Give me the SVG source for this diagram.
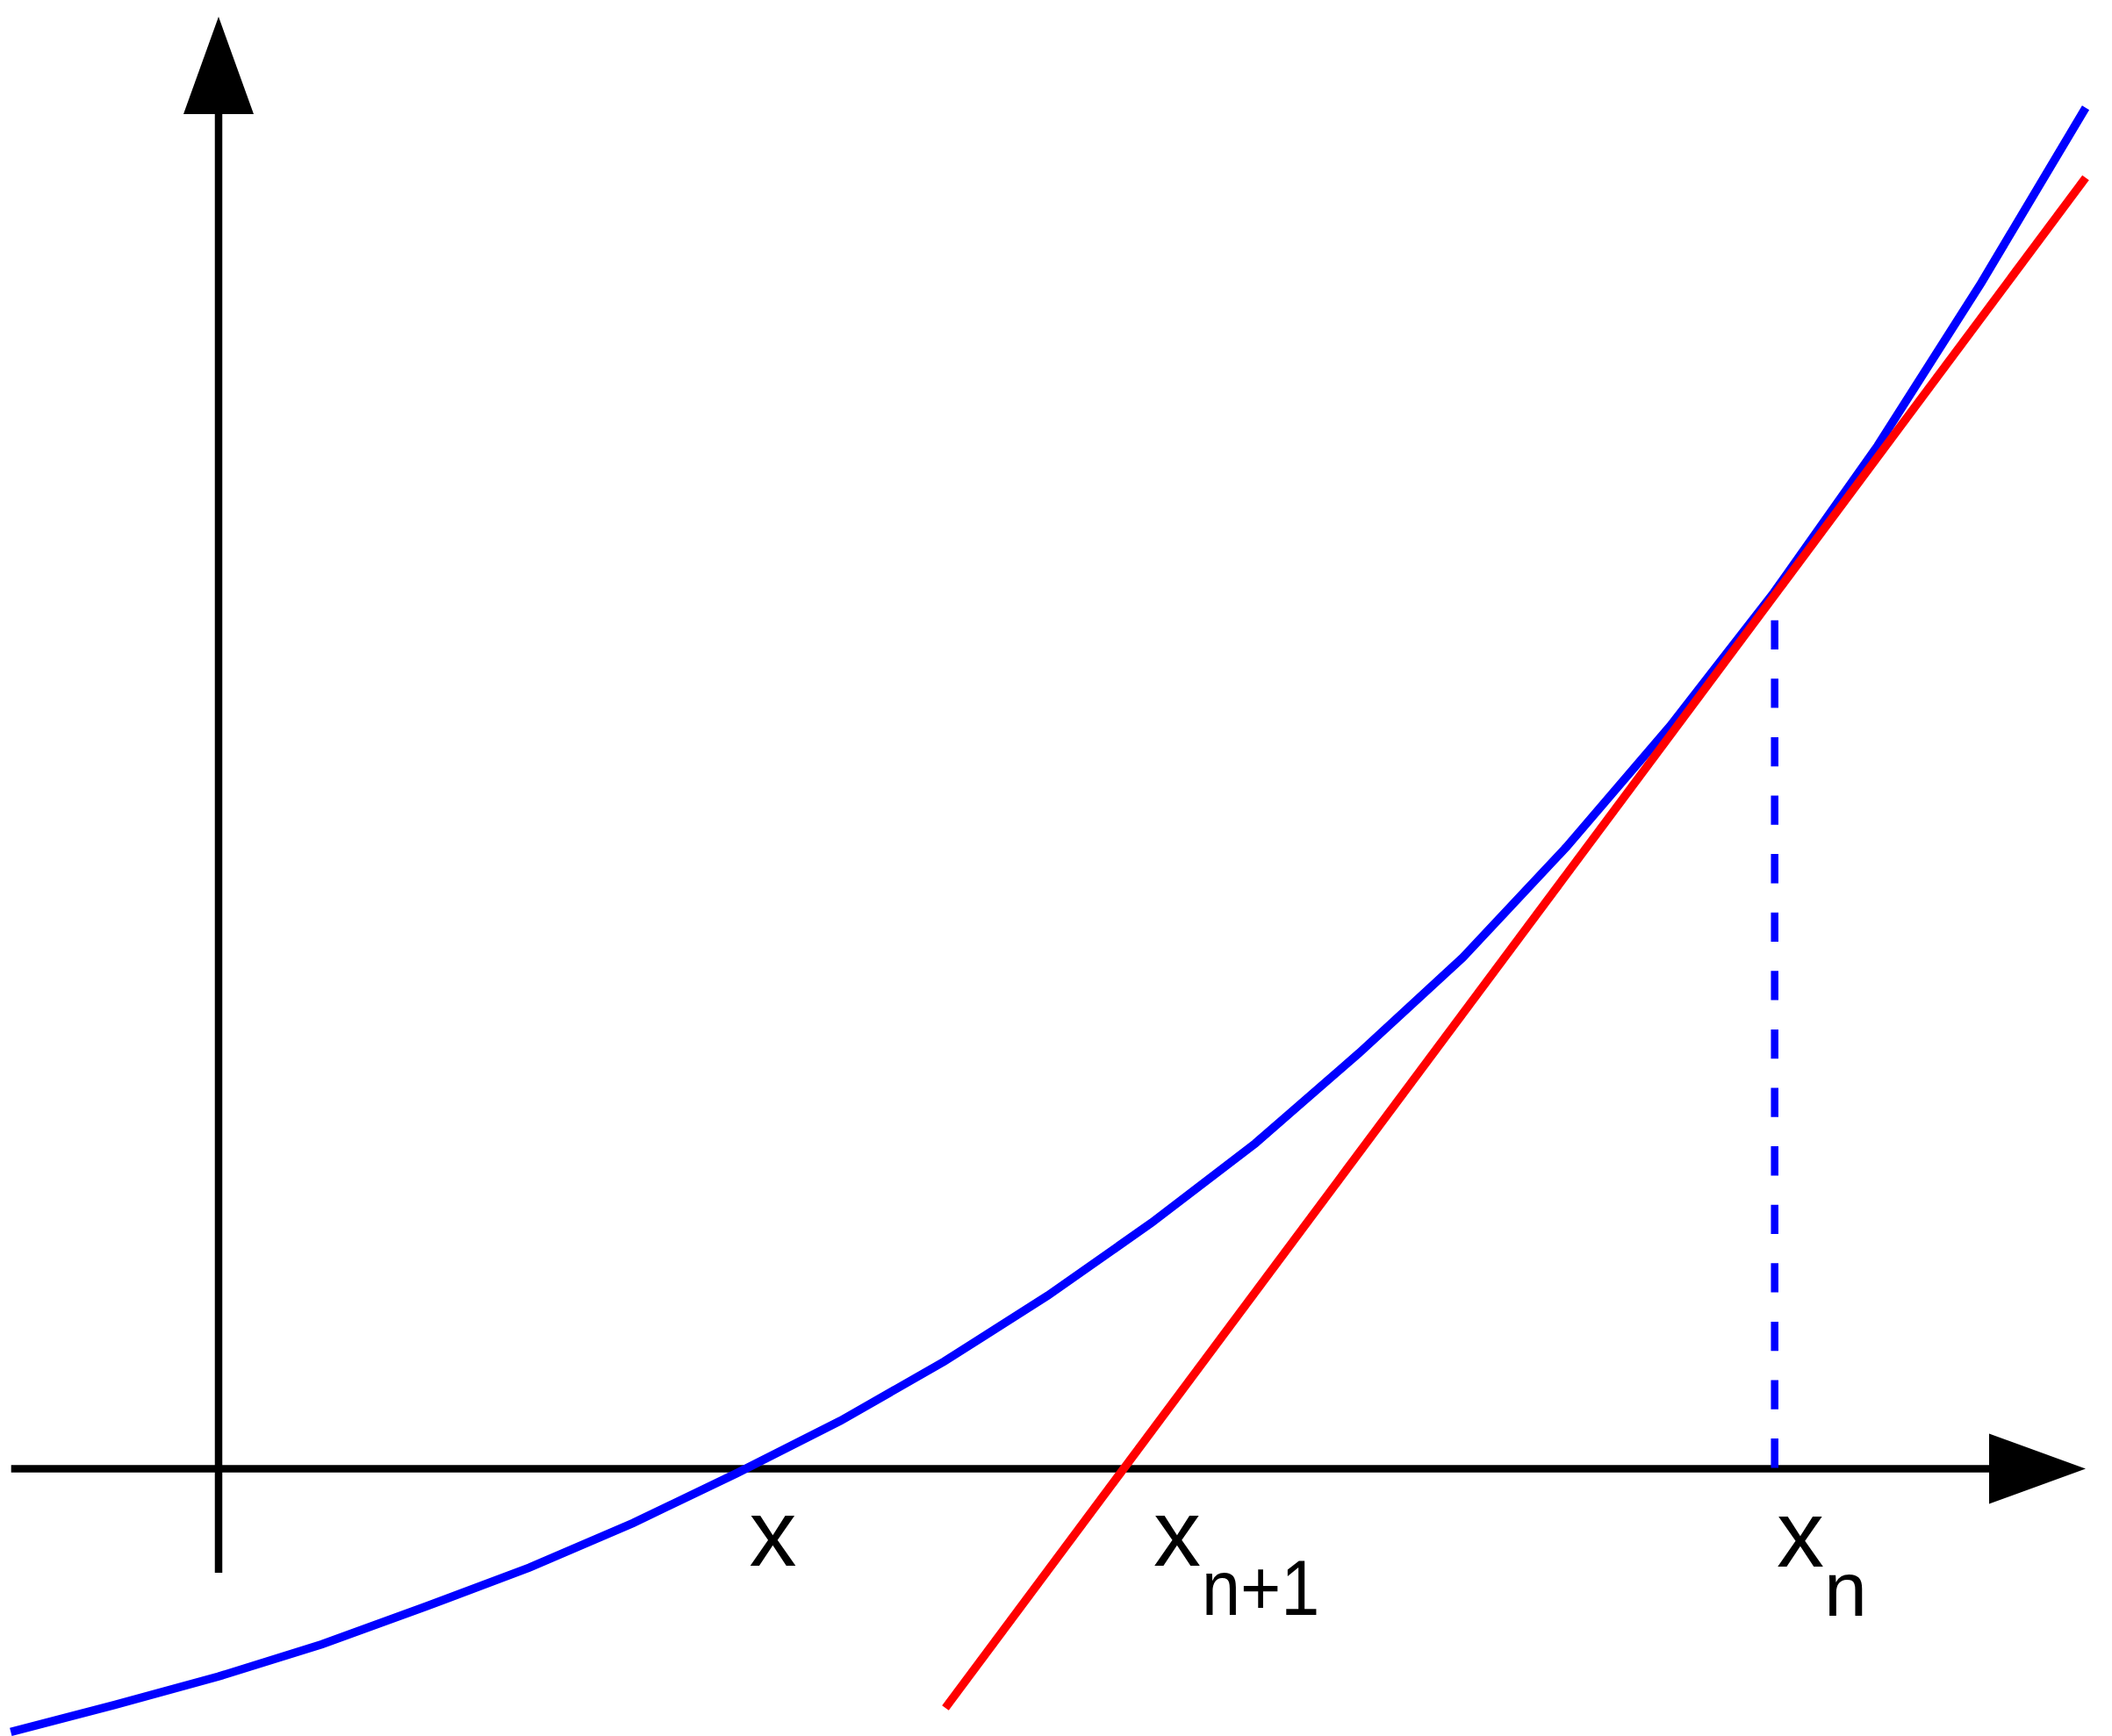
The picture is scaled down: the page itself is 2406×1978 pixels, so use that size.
<svg xmlns="http://www.w3.org/2000/svg" width="2406" height="1978" viewBox="0 0 2406 1978">
<style>
.axis{stroke:#000;stroke-width:8.5;fill:none}
.head{fill:#000;stroke:none}
.curve{stroke:#0000ff;stroke-width:9.5;fill:none;stroke-linejoin:miter}
.tangent{stroke:#ff0000;stroke-width:9.5;fill:none}
.dash{stroke:#0000ff;stroke-width:8.5;fill:none;stroke-dasharray:33.3 33.3}
text{font-family:'Liberation Sans',Arial,Helvetica,sans-serif;fill:#000}
</style>
<rect width="2406" height="1978" fill="#fff"/>
<g id="axes">
<line class="axis" x1="12.7" y1="1673.5" x2="2270" y2="1673.5"/>
<line class="axis" x1="249" y1="1792" x2="249" y2="125"/>
<polygon class="head" points="249,19 209,130 289,130"/>
<polygon class="head" points="2376,1673.5 2266,1633.5 2266,1713.5"/>
</g>
<g id="connectors">
<polyline id="curve" class="curve" points="12.3,1973.3 130.4,1942.6 248.6,1910.3 366.7,1873.5 484.9,1830.5 603,1786.1 721.2,1735.4 839.3,1678.6 957.5,1618.8 1075.6,1551.3 1193.8,1476.1 1311.9,1393.2 1430.1,1302.7 1548.2,1199.9 1666.4,1091 1784.5,965.1 1902.7,827.1 2020.8,675.1 2139,507.9 2257.1,322.2 2376,122.8"/>
<line id="tangent" class="tangent" x1="1077" y1="1946" x2="2376" y2="202.5"/>
<line id="drop" class="dash" x1="2021.7" y1="706.7" x2="2021.7" y2="1673.5"/>
</g>
<g id="labels">
<g id="label-x">
<text font-size="108" x="853.5" y="1784">x</text>
</g>
<g id="label-xn1">
<text font-size="108" x="1314" y="1784">x</text>
<text font-size="89" transform="translate(1369,1840) scale(0.89,1)">n+1</text>
</g>
<g id="label-xn">
<text font-size="108" x="2024" y="1785">x</text>
<text font-size="88" x="2078" y="1840.5">n</text>
</g>
</g>
</svg>
